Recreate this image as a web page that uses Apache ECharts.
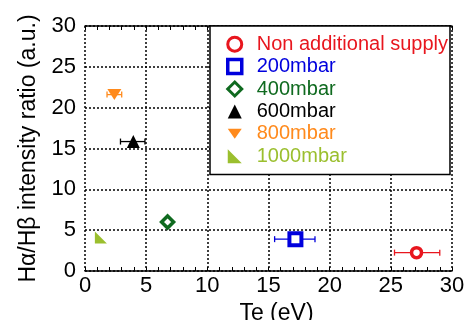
<!DOCTYPE html>
<html><head><meta charset="utf-8">
<script src="https://cdn.jsdelivr.net/npm/echarts@6/dist/echarts.min.js"></script>
<style>html,body{margin:0;padding:0;background:#fff}#c{width:465px;height:320px}</style>
</head><body><div id="c"></div>
<script>
var seriesNames = ['Non additional supply','200mbar','400mbar','600mbar','800mbar','1000mbar'];
var teValues = [27.1, 17.2, 6.75, 3.95, 2.4, 1.3];
var ratioValues = [2.25, 3.9, 6.0, 15.85, 21.6, 4.1];
var teLow = [25.3, 15.5, null, 2.9, 1.8, null];
var teHigh = [29.0, 18.8, null, 4.9, 3.0, null];
var tickValues = [0, 5, 10, 15, 20, 25, 30];

var colors = ['#e8161e','#0000dd','#0f6a1f','#000000','#ff8a1c','#9bbf2e'];
var symbols = ['circle','rect','diamond','triangle','path://M0,0 L14,0 L7,10 Z','path://M0,0 L0,10 L10,10 Z'];
var sizes = [10,12,12,13,[14,11],12];
var borders = [3.5,4,3.5,0,0,0];

var series = [];
seriesNames.forEach(function(n,i){
  var st = borders[i] ? {color:'#fff', borderColor:colors[i], borderWidth:borders[i], opacity:1} : {color:colors[i], opacity:1};
  series.push({
    name:n, type:'scatter', symbol:symbols[i], symbolSize:sizes[i], z:5,
    data:[[teValues[i], ratioValues[i]]],
    itemStyle: st
  });
  if (teLow[i] !== null) {
    series.push({
      type:'custom', z:3, silent:true,
      data:[[teLow[i], teHigh[i], ratioValues[i]]],
      renderItem:(function(c){return function(params, api){
        var a = api.coord([api.value(0), api.value(2)]);
        var b = api.coord([api.value(1), api.value(2)]);
        var s = {stroke:c, lineWidth:1.3};
        return {type:'group', children:[
          {type:'line', shape:{x1:a[0],y1:a[1],x2:b[0],y2:b[1]}, style:s},
          {type:'line', shape:{x1:a[0],y1:a[1]-3,x2:a[0],y2:a[1]+3}, style:s},
          {type:'line', shape:{x1:b[0],y1:b[1]-3,x2:b[0],y2:b[1]+3}, style:s}
        ]};
      };})(colors[i])
    });
  }
});

var dotted = {color:'#000', width:1.5, type:[2,2]};
var font = 'Liberation Sans, Arial, sans-serif';

var chart = echarts.init(document.getElementById('c'), null, {renderer:'canvas'});
chart.setOption({
  animation:false,
  backgroundColor:'#fff',
  grid:{left:85, right:13, top:26, bottom:49, containLabel:false, outerBoundsMode:'none'},
  xAxis:[{
    type:'value', min:0, max:30, interval:5, position:'bottom',
    name:'Te (eV)', nameLocation:'middle', nameGap:25,
    nameTextStyle:{fontFamily:font, fontSize:23, color:'#000', padding:[0,0,0,16]},
    axisLine:{show:true, lineStyle:{color:'#000', width:1.5}},
    axisTick:{show:true, inside:true, length:4, lineStyle:{color:'#000'}},
    minorTick:{show:true, splitNumber:5, length:4, lineStyle:{color:'#000'}},
    axisLabel:{fontFamily:font, fontSize:22, color:'#000', margin:4,
      formatter:function(v){return tickValues.indexOf(v)>=0 ? String(v) : '';}},
    splitLine:{show:true, lineStyle:dotted}
  },{
    type:'value', min:0, max:30, interval:5, position:'top',
    axisLine:{show:true, onZero:false, lineStyle:{color:'#000', width:1.5}},
    axisTick:{show:true, inside:true, length:4, lineStyle:{color:'#000'}},
    minorTick:{show:true, splitNumber:5, length:4, lineStyle:{color:'#000'}},
    axisLabel:{show:false}, splitLine:{show:false}
  }],
  yAxis:{
    type:'value', min:0, max:30, interval:5,
    name:'H\u03b1/H\u03b2 intensity ratio (a.u.)', nameLocation:'middle', nameGap:43,
    nameTextStyle:{fontFamily:font, fontSize:23, color:'#000'},
    axisLine:{show:false}, axisTick:{show:false},
    axisLabel:{fontFamily:font, fontSize:22, color:'#000', margin:9},
    splitLine:{show:true, lineStyle:dotted}
  },
  legend:{
    orient:'vertical', left:210, top:26,
    backgroundColor:'#fff', borderColor:'#000', borderWidth:1.5,
    padding:[7,2,7,16], itemGap:0, itemWidth:14, itemHeight:14,
    textStyle:{fontFamily:font, fontSize:20, lineHeight:22.4, padding:[0,0,0,10]},
    data: seriesNames.map(function(n,i){
      var it = borders[i] ? {color:'#fff', borderColor:colors[i], borderWidth:borders[i]-0.5} : {color:colors[i]};
      return {name:n, textStyle:{color:colors[i]}, itemStyle:it};
    })
  },
  series:series
});
</script></body></html>
